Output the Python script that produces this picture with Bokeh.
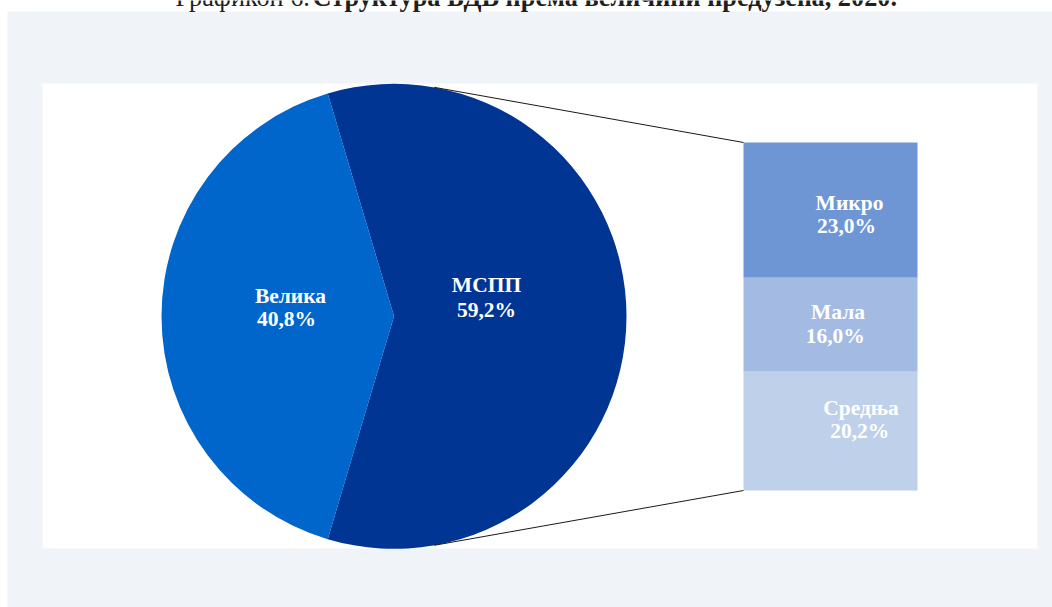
import numpy as np
from bokeh.plotting import figure
from bokeh.models import Range1d
from bokeh.core.properties import value
from bokeh.embed import file_html
from bokeh.resources import INLINE

# ---------------- data ----------------
title_normal = "Графикон 6."
title_bold = "Структура БДВ према величини предузећа, 2020."
pie_labels = ["МСПП", "Велика"]
pie_values = [59.2, 40.8]
bar_labels = ["Микро", "Мала", "Средња"]
bar_values = [23.0, 16.0, 20.2]

# ---------------- styles / layout ----------------
pie_colors = ["#003594", "#0066CC"]
bar_colors = ["#6E96D4", "#A3BBE3", "#BED0EA"]
panel_color = "#F0F3F8"
FONT = value("Liberation Serif")
TITLE_SIZE = 26.3
LABEL_SIZE = 21.5
BASE_SHIFT = 0.42  # renderer puts the alphabetic baseline ~0.42em lower

W, H = 1052, 607
OX, OY = 0, 0


def X(v):
    return np.asarray(v, float) - OX


def Y(v):
    return H - (np.asarray(v, float) - OY)


p = figure(width=W, height=H, x_range=Range1d(0, W), y_range=Range1d(0, H),
           output_backend="svg", toolbar_location=None, min_border=0)
p.axis.visible = False
p.grid.visible = False
p.outline_line_color = None
p.background_fill_color = "white"
p.border_fill_color = "white"

# outer panel and inner plot area
p.quad(left=X(7), right=X(1052), top=Y(11), bottom=Y(607),
       fill_color=panel_color, line_color=None)
p.quad(left=X(42), right=X(1037), top=Y(83), bottom=Y(548),
       fill_color="white", line_color=None)

# title (cut at the top as in the reference)
ty = float(Y(8 - BASE_SHIFT * TITLE_SIZE))
p.text(x=[float(X(175))], y=[ty], text=[title_normal],
       text_font=FONT, text_font_size=f"{TITLE_SIZE}px", text_color="#1F1F1F",
       text_align="left", text_baseline="alphabetic")
p.text(x=[float(X(312))], y=[ty], text=[title_bold],
       text_font=FONT, text_font_size=f"{TITLE_SIZE}px", text_font_style="bold",
       text_color="#1F1F1F", text_align="left", text_baseline="alphabetic")

# ---------------- pie ----------------
cx, cy, R = float(X(393.5)), float(Y(315.8)), 232.5
total = sum(pie_values)
span0 = pie_values[0] / total * 2 * np.pi
starts = [-span0 / 2, span0 / 2]
ends = [span0 / 2, span0 / 2 + pie_values[1] / total * 2 * np.pi]
p.wedge(x=[cx, cx], y=[cy, cy], radius=R, start_angle=starts, end_angle=ends,
        fill_color=pie_colors, line_color=None)

# ---------------- bar of pie ----------------
bar_left, bar_right = float(X(743)), float(X(917))
bar_top_img, bar_h = 142.0, 348.0
scale = bar_h / sum(bar_values)
cum = np.cumsum(bar_values)
tops = Y(bar_top_img + scale * (cum - np.array(bar_values)))
bottoms = Y(bar_top_img + scale * cum)
p.quad(left=bar_left, right=bar_right, top=tops, bottom=bottoms,
       fill_color=bar_colors, line_color=None)

# connector lines
a = np.deg2rad(80)
px_ = cx + R * np.cos(a)
p.line(x=[px_, bar_left], y=[cy + R * np.sin(a), float(tops[0])],
       line_color="#1A1A1A", line_width=1)
p.line(x=[px_, bar_left], y=[cy - R * np.sin(a), float(bottoms[-1])],
       line_color="#1A1A1A", line_width=1)


def pct(v):
    return f"{v:.1f}%".replace(".", ",")


# label anchors (image px): name line (x, baseline), value line (x, baseline)
pie_label_pos = [((486, 294), (486, 319)), ((290, 305), (286, 328))]
bar_label_pos = [((849, 211.7), (846, 235)), ((837.5, 320.7), (834.7, 345)),
                 ((860.5, 416.7), (859.3, 440))]

ls = BASE_SHIFT * LABEL_SIZE
labels = list(zip(pie_labels, pie_values, pie_label_pos)) + \
    list(zip(bar_labels, bar_values, bar_label_pos))
for name, v, ((x1, y1), (x2, y2)) in labels:
    p.text(x=[float(X(x1)), float(X(x2))],
           y=[float(Y(y1 - ls)), float(Y(y2 - ls))],
           text=[name, pct(v)], text_font=FONT,
           text_font_size=f"{LABEL_SIZE}px",
           text_font_style="bold", text_color="white",
           text_align="center", text_baseline="alphabetic")

open("out.html", "w").write(file_html(p, INLINE))
